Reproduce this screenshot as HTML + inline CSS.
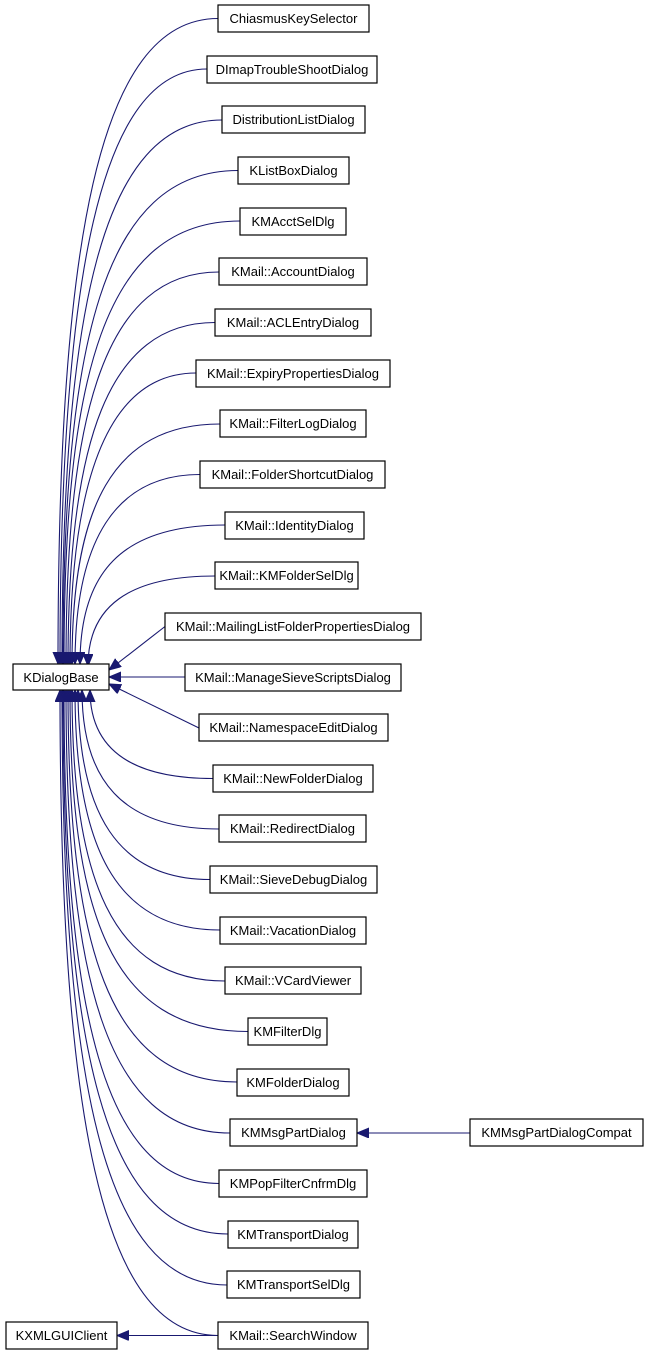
<!DOCTYPE html>
<html><head><meta charset="utf-8"><style>
html,body{margin:0;padding:0;background:#fff;}
svg{display:block;}
text{font-family:"Liberation Sans",sans-serif;font-size:13px;fill:#000;}
rect{fill:#fff;stroke:#000;stroke-width:1.2;}
path.e{fill:none;stroke:#191970;stroke-width:1.1;}
</style></head><body>
<svg width="648" height="1355" viewBox="0 0 648 1355" xmlns="http://www.w3.org/2000/svg">
<defs>
<marker id="a" markerUnits="userSpaceOnUse" markerWidth="14" markerHeight="12" refX="12" refY="5" orient="auto">
<path d="M0,0 L12,5 L0,10 z" fill="#191970" stroke="#191970"/>
</marker>
</defs>
<g marker-end="url(#a)">
<path class="e" d="M218,18.5 C98,18.5 58,244 58,664"/>
<path class="e" d="M207,69 C100,69 60,277 60,664"/>
<path class="e" d="M222,120 C102,120 62,310 62,664"/>
<path class="e" d="M238,170.5 C103,170.5 63,343 63,664"/>
<path class="e" d="M240,221 C104,221 64,376 64,664"/>
<path class="e" d="M219,272 C106,272 66,409 66,664"/>
<path class="e" d="M215,322.5 C108,322.5 68,442 68,664"/>
<path class="e" d="M196,373 C110,373 70,475 70,664"/>
<path class="e" d="M220,424 C112,424 72,508 72,664"/>
<path class="e" d="M200,474.5 C115,474.5 75,541 75,664"/>
<path class="e" d="M225,525 C120,525 80,574 80,664"/>
<path class="e" d="M215,576 C128,576 88,607 88,666"/>
<path class="e" d="M165,626.5 L109,670"/>
<path class="e" d="M185,677 L109,677"/>
<path class="e" d="M199,728 L109,684"/>
<path class="e" d="M213,778.5 C130,778.5 90,748 90,690"/>
<path class="e" d="M219,829 C122,829 82,780 82,690"/>
<path class="e" d="M210,879.5 C118,879.5 78,814 78,690"/>
<path class="e" d="M220,930 C115,930 75,846 75,690"/>
<path class="e" d="M225,981 C112,981 72,879 72,690"/>
<path class="e" d="M248,1031.5 C110,1031.5 70,912 70,690"/>
<path class="e" d="M237,1082 C108,1082 68,945 68,690"/>
<path class="e" d="M230,1133 C106,1133 66,978 66,690"/>
<path class="e" d="M219,1183.5 C104,1183.5 64,1011 64,690"/>
<path class="e" d="M228,1234 C103,1234 63,1043 63,690"/>
<path class="e" d="M227,1285 C102,1285 62,1077 62,690"/>
<path class="e" d="M218,1335.5 C100,1335.5 60,1110 60,690"/>
<path class="e" d="M470,1133 L357,1133"/>
<path class="e" d="M218,1335.5 L117,1335.5"/>
</g>
<rect x="13" y="664" width="96" height="26"/><text x="61" y="682" text-anchor="middle">KDialogBase</text>
<rect x="6" y="1322" width="111" height="27"/><text x="61.5" y="1340" text-anchor="middle">KXMLGUIClient</text>
<rect x="470" y="1119" width="173" height="27"/><text x="556.5" y="1137" text-anchor="middle">KMMsgPartDialogCompat</text>
<g text-anchor="middle">
<rect x="218" y="5" width="151" height="27"/><text x="293.5" y="23">ChiasmusKeySelector</text>
<rect x="207" y="56" width="170" height="27"/><text x="292" y="74">DImapTroubleShootDialog</text>
<rect x="222" y="106" width="143" height="27"/><text x="293.5" y="124">DistributionListDialog</text>
<rect x="238" y="157" width="111" height="27"/><text x="293.5" y="175">KListBoxDialog</text>
<rect x="240" y="208" width="106" height="27"/><text x="293" y="226">KMAcctSelDlg</text>
<rect x="219" y="258" width="148" height="27"/><text x="293" y="276">KMail::AccountDialog</text>
<rect x="215" y="309" width="156" height="27"/><text x="293" y="327">KMail::ACLEntryDialog</text>
<rect x="196" y="360" width="194" height="27"/><text x="293" y="378">KMail::ExpiryPropertiesDialog</text>
<rect x="220" y="410" width="146" height="27"/><text x="293" y="428">KMail::FilterLogDialog</text>
<rect x="200" y="461" width="185" height="27"/><text x="292.5" y="479">KMail::FolderShortcutDialog</text>
<rect x="225" y="512" width="139" height="27"/><text x="294.5" y="530">KMail::IdentityDialog</text>
<rect x="215" y="562" width="143" height="27"/><text x="286.5" y="580">KMail::KMFolderSelDlg</text>
<rect x="165" y="613" width="256" height="27"/><text x="293" y="631">KMail::MailingListFolderPropertiesDialog</text>
<rect x="185" y="664" width="216" height="27"/><text x="293" y="682">KMail::ManageSieveScriptsDialog</text>
<rect x="199" y="714" width="189" height="27"/><text x="293.5" y="732">KMail::NamespaceEditDialog</text>
<rect x="213" y="765" width="160" height="27"/><text x="293" y="783">KMail::NewFolderDialog</text>
<rect x="219" y="815" width="147" height="27"/><text x="292.5" y="833">KMail::RedirectDialog</text>
<rect x="210" y="866" width="167" height="27"/><text x="293.5" y="884">KMail::SieveDebugDialog</text>
<rect x="220" y="917" width="146" height="27"/><text x="293" y="935">KMail::VacationDialog</text>
<rect x="225" y="967" width="136" height="27"/><text x="293" y="985">KMail::VCardViewer</text>
<rect x="248" y="1018" width="79" height="27"/><text x="287.5" y="1036">KMFilterDlg</text>
<rect x="237" y="1069" width="112" height="27"/><text x="293" y="1087">KMFolderDialog</text>
<rect x="230" y="1119" width="127" height="27"/><text x="293.5" y="1137">KMMsgPartDialog</text>
<rect x="219" y="1170" width="148" height="27"/><text x="293" y="1188">KMPopFilterCnfrmDlg</text>
<rect x="228" y="1221" width="130" height="27"/><text x="293" y="1239">KMTransportDialog</text>
<rect x="227" y="1271" width="133" height="27"/><text x="293.5" y="1289">KMTransportSelDlg</text>
<rect x="218" y="1322" width="150" height="27"/><text x="293" y="1340">KMail::SearchWindow</text>
</g>
</svg>
</body></html>
